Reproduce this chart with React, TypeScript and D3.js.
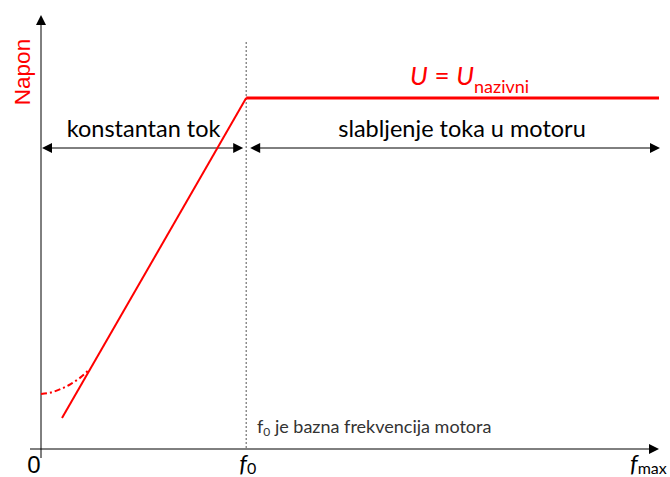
import React from 'react';
import * as d3 from 'd3';

// frequency in % of fmax, voltage in % of nominal
const F0 = 33.2;
const FMAX = 100;
const U_NOM = 100;
const voltageLine = [
  { f: 3.4, u: 8.8 },
  { f: F0, u: U_NOM },
  { f: FMAX, u: U_NOM },
];
const boostCurve = [
  { f: 0, u: 15.7 },
  { f: 1.6, u: 16.1 },
  { f: 3.2, u: 17.1 },
  { f: 4.8, u: 18.5 },
  { f: 6.4, u: 20.4 },
  { f: 7.9, u: 22.8 },
];
const regionLabels = ['konstantan tok', 'slabljenje toka u motoru'];

const W = 670;
const H = 477;
const RED = '#ff0000';
const FONT = 'Lato, "Open Sans", sans-serif';

const App: React.FC = () => {
  const x = d3.scaleLinear().domain([0, FMAX]).range([41, 659]);
  const y = d3.scaleLinear().domain([0, U_NOM]).range([449, 98]);

  const line = d3.line<{ f: number; u: number }>()
    .x(d => x(d.f))
    .y(d => y(d.u));
  const curve = d3.line<{ f: number; u: number }>()
    .x(d => x(d.f))
    .y(d => y(d.u))
    .curve(d3.curveMonotoneX);

  const axisY = y(0);
  const arrowY = 148;
  const topY = 15;

  const head = (tx: number, ty: number, dir: 'l' | 'r' | 'u') => {
    const L = 10, Wd = 5;
    let pts: [number, number][];
    if (dir === 'r') pts = [[tx, ty], [tx - L, ty - Wd], [tx - L, ty + Wd]];
    else if (dir === 'l') pts = [[tx, ty], [tx + L, ty - Wd], [tx + L, ty + Wd]];
    else pts = [[tx, ty], [tx - Wd, ty + L], [tx + Wd, ty + L]];
    return <polygon points={pts.map(p => p.join(',')).join(' ')} fill="#000" />;
  };

  return (
    <svg width={W} height={H} style={{ position: 'absolute', left: 0, top: 0, background: '#fff' }}>
      {/* axes */}
      <line x1={30} x2={x(FMAX) - 4} y1={axisY} y2={axisY} stroke="#000" strokeWidth={1} />
      {head(x(FMAX), axisY, 'r')}
      <line x1={x(0)} x2={x(0)} y1={topY + 4} y2={458} stroke="#000" strokeWidth={1} />
      {head(x(0), topY, 'u')}

      {/* f0 marker */}
      <line x1={x(F0)} x2={x(F0)} y1={42} y2={axisY} stroke="#555" strokeWidth={1} strokeDasharray="2,2" />

      {/* region arrows */}
      <line x1={x(0) + 4} x2={x(F0) - 6} y1={arrowY} y2={arrowY} stroke="#000" strokeWidth={1} />
      {head(x(0) + 1, arrowY, 'l')}
      {head(x(F0) - 3, arrowY, 'r')}
      <line x1={x(F0) + 8} x2={x(FMAX) - 4} y1={arrowY} y2={arrowY} stroke="#000" strokeWidth={1} />
      {head(x(F0) + 4, arrowY, 'l')}
      {head(x(FMAX) + 1, arrowY, 'r')}

      <text x={(x(0) + x(F0)) / 2} y={137} textAnchor="middle" fontFamily={FONT} fontSize={23.5} fill="#000">
        {regionLabels[0]}
      </text>
      <text x={462} y={137} textAnchor="middle" fontFamily={FONT} fontSize={23.5} fill="#000">
        {regionLabels[1]}
      </text>

      {/* voltage curves */}
      <path d={curve(boostCurve) || ''} fill="none" stroke={RED} strokeWidth={2} strokeDasharray="6,3,2,3" />
      <path d={line(voltageLine.slice(0, 2)) || ''} fill="none" stroke={RED} strokeWidth={2} />
      <path d={line(voltageLine.slice(1)) || ''} fill="none" stroke={RED} strokeWidth={3} />

      <text x={410} y={85} fontFamily={FONT} fontSize={26} fill={RED}>
        <tspan fontStyle="italic">U</tspan>
        <tspan> = </tspan>
        <tspan fontStyle="italic">U</tspan>
        <tspan fontSize={18} dy={8}>nazivni</tspan>
      </text>

      <text transform="translate(30,72) rotate(-90)" textAnchor="middle" fontFamily="Arial, 'Liberation Sans', sans-serif" fontSize={22.5} fill={RED}>
        Napon
      </text>

      {/* tick labels */}
      <text x={34} y={473} textAnchor="middle" fontFamily="Arial, 'Liberation Sans', sans-serif" fontSize={24} fill="#000">0</text>
      <text x={x(F0) - 7} y={472} fontFamily={FONT} fontSize={24} fill="#000">
        <tspan fontStyle="italic">f</tspan>
        <tspan fontSize={16} dy={2}>0</tspan>
      </text>
      <text x={x(FMAX) - 29} y={472} fontFamily={FONT} fontSize={24} fill="#000">
        <tspan fontStyle="italic">f</tspan>
        <tspan fontSize={16} dy={2}>max</tspan>
      </text>

      <text x={257} y={433} fontFamily={FONT} fontSize={18} fill="#333">
        f<tspan fontSize={12} dy={3}>0</tspan>
        <tspan dy={-3}> je bazna frekvencija motora</tspan>
      </text>
    </svg>
  );
};

export default App;
